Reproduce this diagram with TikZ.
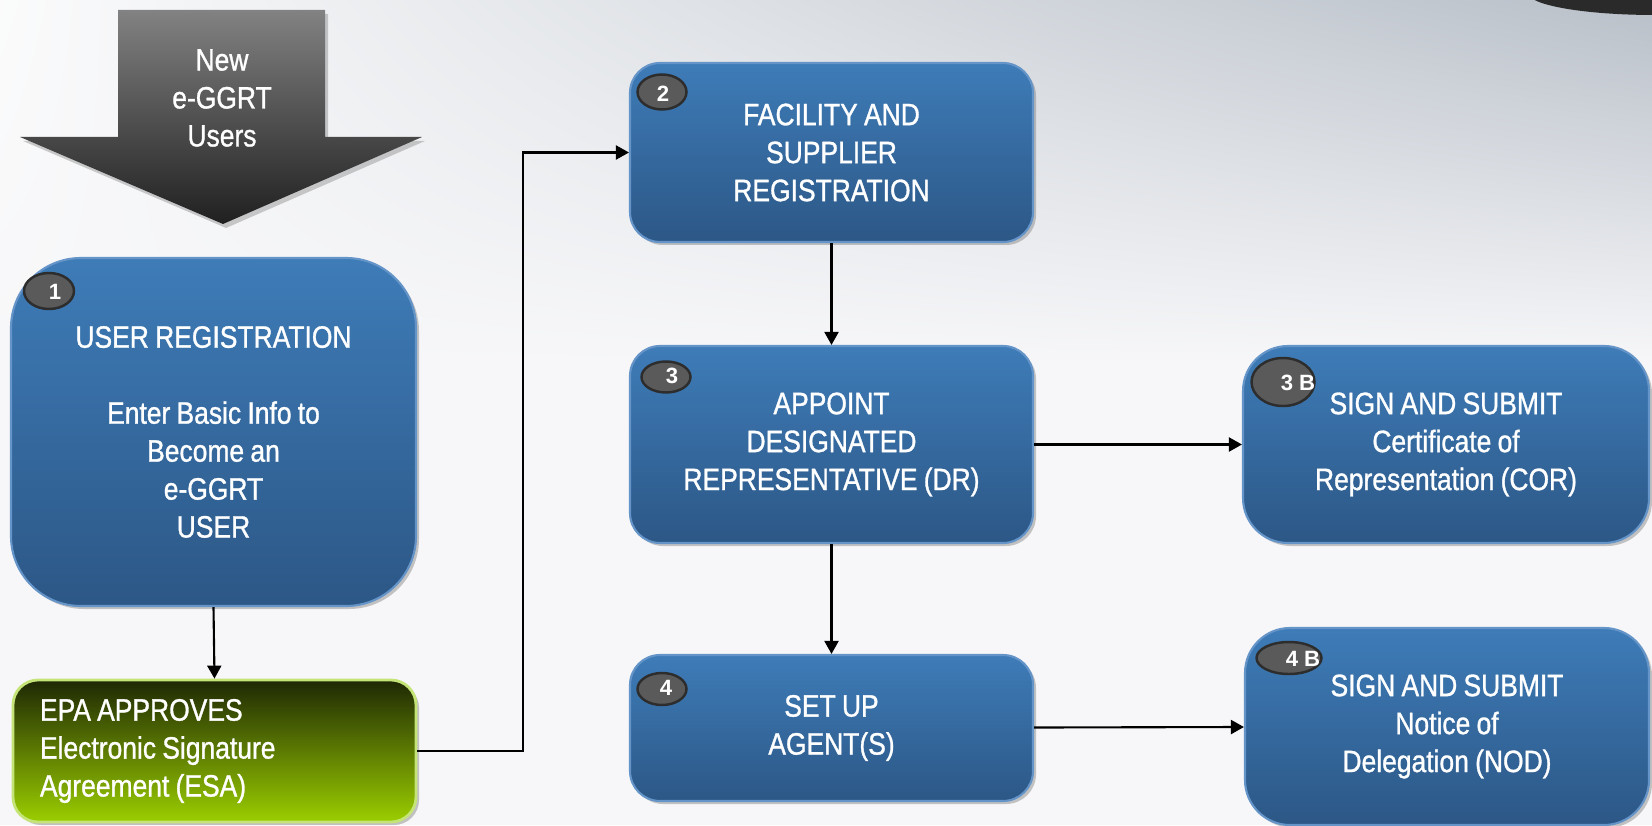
\documentclass[tikz,border=0pt]{standalone}
\usepackage{fontspec}
\setmainfont{Liberation Sans}[FakeStretch=0.855, FakeBold=1.0, WordSpace=0.85]
\newfontfamily\badgefont{Liberation Sans}
\usetikzlibrary{positioning}
\usetikzlibrary{shapes.geometric, shadows, shadings, arrows.meta}

\definecolor{boxtop}{RGB}{62,124,184}
\definecolor{boxbot}{RGB}{44,87,134}
\definecolor{boxedge}{RGB}{100,148,200}
\definecolor{esatop}{RGB}{30,40,4}
\definecolor{esabot}{RGB}{155,206,0}
\definecolor{esaedge}{RGB}{196,228,120}
\definecolor{badgefill}{RGB}{90,90,90}
\definecolor{badgeedge}{RGB}{45,45,45}
\definecolor{bggray}{RGB}{184,191,200}
\definecolor{bglight}{RGB}{247,247,249}
\definecolor{arrowtop}{RGB}{130,130,130}
\definecolor{arrowbot}{RGB}{32,32,32}
\definecolor{blobdark}{RGB}{42,42,42}

\tikzset{
  steptext/.style={font=\fontsize{8.8}{10.8}\selectfont, text=white, align=center},
  bluebox/.style={steptext, rectangle, rounded corners=0.3cm, top color=boxtop, bottom color=boxbot,
    draw=boxedge, line width=0.6pt, minimum width=4.03cm,
    drop shadow={shadow xshift=0.03cm, shadow yshift=-0.03cm, opacity=0.45}},
  esabox/.style={steptext, align=flush left, rectangle, rounded corners=0.25cm, top color=esatop, bottom color=esabot,
    draw=esaedge, line width=0.8pt,
    drop shadow={shadow xshift=0.03cm, shadow yshift=-0.03cm, opacity=0.45}},
  badge/.style={ellipse, fill=badgefill, draw=badgeedge, line width=0.7pt, inner sep=0pt},
  badgetext/.style={font=\badgefont\bfseries\fontsize{6.3}{7}\selectfont, text=white, inner sep=0pt},
  flow/.style={line width=0.6pt, -{Triangle[length=0.13cm, width=0.14cm]}}
}

\begin{document}
\begin{tikzpicture}
\useasboundingbox (0,0) rectangle (16.52,8.25);
\fill[bglight] (0,0) rectangle (16.52,8.25);
\shade[upper left=white!94!bggray, upper right=bggray, lower left=bglight, lower right=bglight] (0,4.6) rectangle (16.52,8.25);
\begin{scope}
\clip (0,0) rectangle (16.52,8.25);
\fill[blobdark] (16.55,8.32) ellipse [x radius=1.27, y radius=0.22];
\end{scope}

% new users arrow
\path[top color=arrowtop, bottom color=arrowbot, drop shadow={shadow xshift=0.03cm, shadow yshift=-0.04cm, opacity=0.4}]
  (1.18,8.15) -- (3.25,8.15) -- (3.25,6.88) -- (4.22,6.88) -- (2.23,6.01) -- (0.20,6.88) -- (1.18,6.88) -- cycle;
\node[steptext] (newusers) at (2.22,7.27) {New\\e-GGRT\\Users};

% steps
\node[bluebox, rounded corners=0.7cm, minimum width=4.05cm, minimum height=3.48cm] (userreg) at (2.135,3.93)
  {USER REGISTRATION\\[0.38cm]Enter Basic Info to\\Become an\\e-GGRT\\USER};
\node[esabox, minimum height=1.42cm, text width=3.49cm, inner xsep=0.27cm] (esa) at (2.145,0.74)
  {EPA APPROVES\\Electronic Signature\\Agreement (ESA)};
\node[bluebox, minimum height=1.79cm] (facreg) at (8.315,6.725) {FACILITY AND\\SUPPLIER\\REGISTRATION};
\node[bluebox, minimum height=1.97cm] (appointdr) at (8.315,3.805) {APPOINT\\DESIGNATED\\REPRESENTATIVE (DR)};
\node[bluebox, minimum height=1.46cm] (agents) at (8.315,0.97) {SET UP\\AGENT(S)};
\node[bluebox, rounded corners=0.45cm, minimum width=4.06cm, minimum height=1.97cm] (cor) at (14.46,3.805)
  {SIGN AND SUBMIT\\Certificate of\\Representation (COR)};
\node[bluebox, rounded corners=0.45cm, minimum width=4.04cm, minimum height=1.97cm] (nod) at (14.47,0.985)
  {SIGN AND SUBMIT\\Notice of\\Delegation (NOD)};

% badges
\node[badge, minimum width=0.50cm, minimum height=0.36cm] (badge1) at (0.49,5.34) {};
\node[badgetext] (num1) at (0.55,5.33) {1};
\node[badge, minimum width=0.49cm, minimum height=0.35cm] (badge2) at (6.62,7.33) {};
\node[badgetext] (num2) at (6.63,7.31) {2};
\node[badge, minimum width=0.49cm, minimum height=0.31cm] (badge3) at (6.66,4.48) {};
\node[badgetext] (num3) at (6.72,4.49) {3};
\node[badge, minimum width=0.49cm, minimum height=0.32cm] (badge4) at (6.62,1.36) {};
\node[badgetext] (num4) at (6.66,1.37) {4};
\node[badge, minimum width=0.63cm, minimum height=0.48cm] (badge3b) at (12.83,4.43) {};
\node[badgetext] (num3b) at (12.98,4.42) {3 B};
\node[badge, minimum width=0.65cm, minimum height=0.32cm] (badge4b) at (12.89,1.67) {};
\node[badgetext] (num4b) at (13.03,1.66) {4 B};

% connectors
\coordinate (elbow) at (5.23,0);
\draw[flow] (userreg.south) -- (esa.north);
\draw[flow] (esa.east) -- (esa.east -| elbow) |- (facreg.west);
\draw[flow] (facreg) -- (appointdr);
\draw[flow] (appointdr) -- (agents);
\draw[flow] (appointdr) -- (cor);
\draw[flow] (agents) -- (nod);

\end{tikzpicture}
\end{document}
